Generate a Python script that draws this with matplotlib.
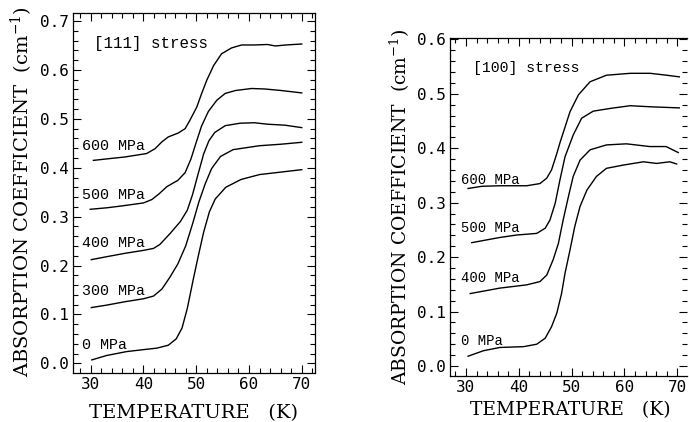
import matplotlib
matplotlib.use("Agg")
import matplotlib.pyplot as plt
from matplotlib.ticker import MultipleLocator, FormatStrFormatter

plt.rcParams['mathtext.fontset'] = 'dejavuserif'

# ---- [111] stress panel (left) ----
t111_0 = [30.2, 33.0, 36.8, 40.0, 42.5, 44.7, 46.2, 47.3, 48.3, 49.5, 50.4, 51.4, 52.5, 53.6, 55.6, 58.5, 62.0, 66.0, 70.0]
a111_0 = [0.007, 0.016, 0.024, 0.028, 0.031, 0.037, 0.050, 0.072, 0.112, 0.175, 0.220, 0.268, 0.310, 0.336, 0.360, 0.376, 0.386, 0.391, 0.396]

t111_300 = [30.1, 33.0, 36.5, 40.0, 41.9, 43.5, 45.0, 46.5, 48.0, 49.3, 50.5, 51.7, 52.9, 54.6, 57.0, 62.0, 66.0, 70.0]
a111_300 = [0.114, 0.119, 0.126, 0.132, 0.1375, 0.152, 0.176, 0.203, 0.240, 0.285, 0.330, 0.367, 0.398, 0.423, 0.437, 0.445, 0.448, 0.452]

t111_400 = [30.1, 33.0, 36.5, 40.0, 41.9, 43.1, 45.0, 47.0, 48.3, 49.3, 50.3, 51.4, 52.4, 53.5, 55.5, 58.3, 61.0, 63.5, 66.8, 70.0]
a111_400 = [0.212, 0.218, 0.225, 0.231, 0.235, 0.243, 0.265, 0.290, 0.313, 0.345, 0.385, 0.428, 0.455, 0.472, 0.486, 0.491, 0.492, 0.489, 0.487, 0.482]

t111_500 = [29.9, 33.0, 36.0, 40.0, 41.6, 43.0, 44.4, 45.5, 46.5, 47.9, 49.0, 50.0, 51.0, 52.3, 53.9, 55.5, 57.5, 60.5, 63.0, 66.0, 70.0]
a111_500 = [0.315, 0.318, 0.322, 0.328, 0.335, 0.347, 0.361, 0.368, 0.374, 0.390, 0.418, 0.452, 0.485, 0.515, 0.538, 0.552, 0.558, 0.562, 0.561, 0.558, 0.553]

t111_600 = [30.5, 33.0, 36.5, 40.6, 42.2, 43.5, 44.7, 46.6, 47.9, 48.8, 50.1, 51.0, 52.0, 53.3, 54.8, 56.7, 58.6, 61.0, 63.5, 65.0, 67.0, 70.0]
a111_600 = [0.415, 0.418, 0.422, 0.429, 0.439, 0.453, 0.463, 0.471, 0.480, 0.497, 0.524, 0.551, 0.579, 0.609, 0.633, 0.645, 0.651, 0.651, 0.652, 0.649, 0.651, 0.653]

labels111 = ["0 MPa", "300 MPa", "400 MPa", "500 MPa", "600 MPa"]
label_y111 = [0.037, 0.148, 0.246, 0.344, 0.444]

# ---- [100] stress panel (right) ----
t100_0 = [30.4, 33.3, 36.4, 40.9, 43.4, 45.0, 46.2, 47.2, 48.1, 48.75, 49.7, 50.6, 51.6, 52.9, 54.7, 56.6, 59.8, 63.6, 66.1, 68.6, 69.9]
a100_0 = [0.018, 0.028, 0.034, 0.0355, 0.040, 0.051, 0.072, 0.097, 0.133, 0.170, 0.213, 0.256, 0.293, 0.323, 0.348, 0.363, 0.369, 0.375, 0.372, 0.375, 0.371]

t100_400 = [30.8, 36.4, 41.5, 44.0, 45.3, 46.5, 47.5, 48.4, 49.4, 50.3, 51.6, 53.5, 56.6, 60.4, 64.8, 67.9, 70.2]
a100_400 = [0.133, 0.143, 0.149, 0.155, 0.167, 0.195, 0.225, 0.268, 0.311, 0.348, 0.378, 0.397, 0.406, 0.408, 0.403, 0.403, 0.392]

t100_500 = [31.1, 36.4, 39.6, 43.4, 45.0, 45.9, 46.9, 47.8, 48.75, 50.3, 51.9, 54.1, 57.3, 61.1, 65.0, 70.4]
a100_500 = [0.2265, 0.236, 0.2405, 0.2435, 0.253, 0.268, 0.299, 0.342, 0.384, 0.424, 0.455, 0.468, 0.473, 0.478, 0.476, 0.474]

t100_600 = [30.4, 33.0, 36.4, 41.5, 44.0, 45.3, 46.2, 47.2, 47.8, 48.8, 49.7, 51.3, 53.5, 56.6, 61.1, 64.9, 68.0, 70.4]
a100_600 = [0.326, 0.330, 0.331, 0.331, 0.335, 0.345, 0.360, 0.390, 0.410, 0.440, 0.467, 0.498, 0.522, 0.534, 0.5375, 0.5375, 0.534, 0.531]

labels100 = ["0 MPa", "400 MPa", "500 MPa", "600 MPa"]
label_y100 = [0.046, 0.161, 0.254, 0.342]

LABEL_FONT = "DejaVu Serif"
TICK_FONT = "DejaVu Sans Mono"
NOTE_FONT = "Liberation Mono"


def style_axes(ax, lims, ymax_tick, label_size):
    ax.set_xlim(lims[0])
    ax.set_ylim(lims[1])
    ax.xaxis.set_major_locator(MultipleLocator(10))
    ax.xaxis.set_minor_locator(MultipleLocator(2))
    ax.yaxis.set_minor_locator(MultipleLocator(0.02))
    ax.set_yticks([i / 10 for i in range(int(round(ymax_tick * 10)) + 1)])
    ax.yaxis.set_major_formatter(FormatStrFormatter('%.1f'))
    ax.tick_params(which='both', direction='in', top=True, right=True, width=0.8,
                   labelsize=11.5, labelfontfamily=TICK_FONT, pad=3)
    ax.tick_params(which='major', length=6)
    ax.tick_params(which='minor', length=3.5)
    for sp in ax.spines.values():
        sp.set_linewidth(0.9)
    # labels centred on the coordinates given later
    ax.set_xlabel("TEMPERATURE   (K)", family=LABEL_FONT, fontsize=label_size, va='center')
    ax.set_ylabel(r"ABSORPTION COEFFICIENT  (cm$^{-1}$)", family=LABEL_FONT,
                  fontsize=label_size, va='center')


fig = plt.figure(figsize=(6.89, 4.22), dpi=100)
ax1 = fig.add_axes([0.1060, 0.1161, 0.3512, 0.8531])
ax2 = fig.add_axes([0.6531, 0.1090, 0.3440, 0.8010])

for t, a in [(t111_0, a111_0), (t111_300, a111_300), (t111_400, a111_400),
             (t111_500, a111_500), (t111_600, a111_600)]:
    ax1.plot(t, a, color='black', lw=1.0)
for lab, y in zip(labels111, label_y111):
    ax1.text(28.35, y, lab, family=NOTE_FONT, fontsize=10.8, va='center', ha='left')
ax1.text(30.6, 0.655, "[111] stress", family=NOTE_FONT, fontsize=11.4, va='center', ha='left')
style_axes(ax1, ((26.64, 72.52), (-0.0198, 0.7164)), 0.7, 14)
ax1.yaxis.set_label_coords(-0.211, 0.504)
ax1.xaxis.set_label_coords(0.498, -0.111)

for t, a in [(t100_0, a100_0), (t100_400, a100_400), (t100_500, a100_500), (t100_600, a100_600)]:
    ax2.plot(t, a, color='black', lw=1.0)
for lab, y in zip(labels100, label_y100):
    ax2.text(29.1, y, lab, family=NOTE_FONT, fontsize=10, va='center', ha='left')
ax2.text(31.3, 0.547, "[100] stress", family=NOTE_FONT, fontsize=10.6, va='center', ha='left')
style_axes(ax2, ((26.97, 71.86), (-0.0184, 0.6024)), 0.6, 13.5)
ax2.spines['right'].set_visible(False)
ax2.yaxis.set_label_coords(-0.211, 0.5015)
ax2.xaxis.set_label_coords(0.508, -0.1006)

fig.savefig("out.png", dpi=100)
